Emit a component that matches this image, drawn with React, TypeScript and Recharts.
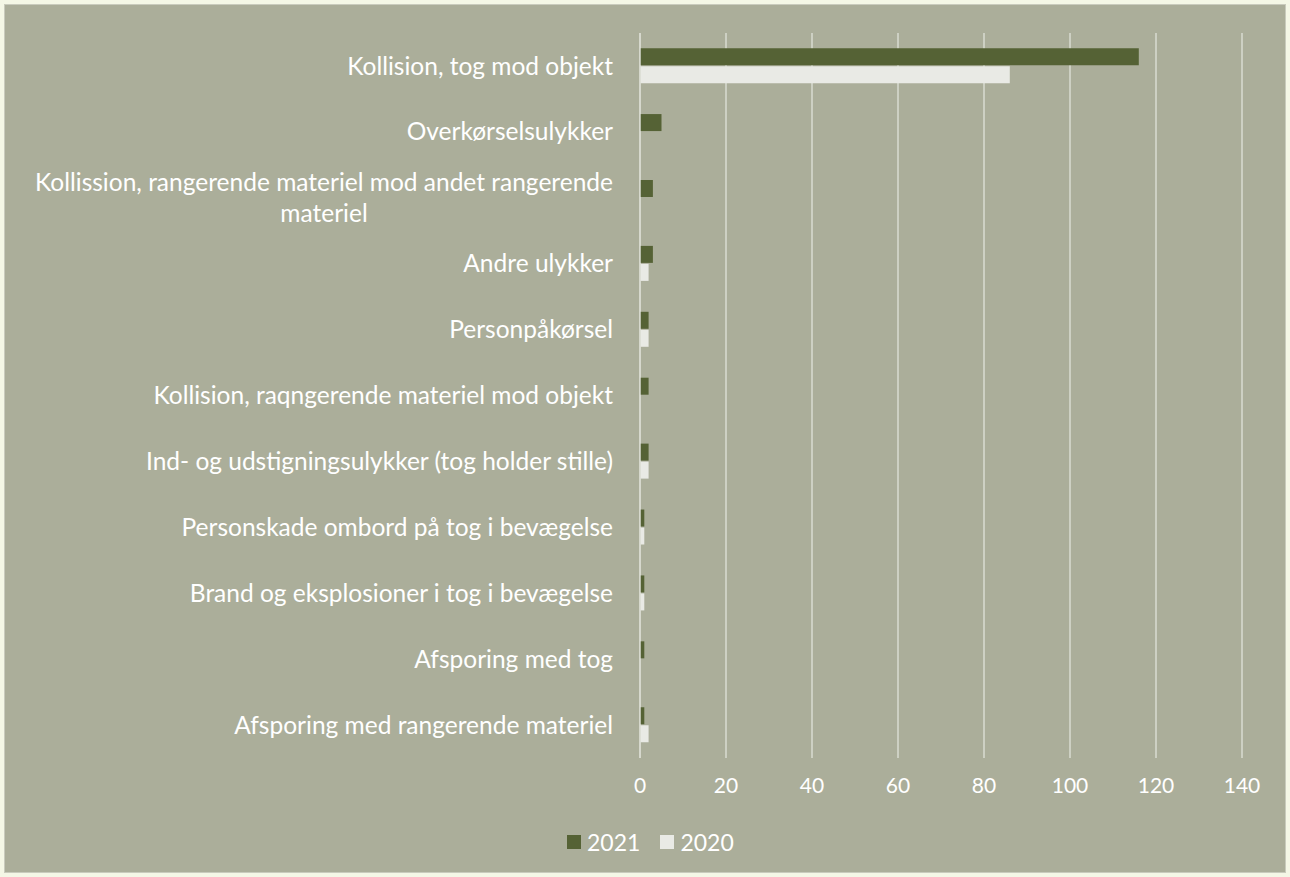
import React from 'react'
import { Bar, BarChart, CartesianGrid, XAxis, YAxis } from 'recharts'

// ── Data ──
const categories = [
  'Kollision, tog mod objekt',
  'Overkørselsulykker',
  'Kollission, rangerende materiel mod andet rangerende materiel',
  'Andre ulykker',
  'Personpåkørsel',
  'Kollision, raqngerende materiel mod objekt',
  'Ind- og udstigningsulykker (tog holder stille)',
  'Personskade ombord på tog i bevægelse',
  'Brand og eksplosioner i tog i bevægelse',
  'Afsporing med tog',
  'Afsporing med rangerende materiel',
]
const values2021 = [116, 5, 3, 3, 2, 2, 2, 1, 1, 1, 1]
const values2020 = [86, 0, 0, 2, 2, 0, 2, 1, 1, 0, 2]
const xTicks = [0, 20, 40, 60, 80, 100, 120, 140]
const seriesLabels = ['2021', '2020']

const data = categories.map((name, i) => ({
  name,
  y2021: values2021[i],
  y2020: values2020[i],
}))

const FONT = 'Lato, "Open Sans", sans-serif'
const DARK = '#556235'
const LIGHT = '#e9eae5'
const BG = '#abae9a'
const GRID = '#d9dbd0'
const LABEL_SIZE = 24.5

// Two-line labels are centered against each other, block right-aligned
const wraps: Record<string, string[]> = {
  'Kollission, rangerende materiel mod andet rangerende materiel': [
    'Kollission, rangerende materiel mod andet rangerende',
    'materiel',
  ],
}

let ctx: CanvasRenderingContext2D | null = null
function textWidth(s: string, size: number) {
  if (!ctx) ctx = document.createElement('canvas').getContext('2d')
  if (!ctx) return s.length * size * 0.5
  ctx.font = `${size}px ${FONT}`
  return ctx.measureText(s).width
}

function CategoryTick(props: any) {
  const { x, y, payload } = props
  const lines = wraps[payload.value]
  if (!lines) {
    return (
      <text x={x} y={y} dy="0.35em" textAnchor="end" fill="#ffffff" fontSize={LABEL_SIZE} fontFamily={FONT}>
        {payload.value}
      </text>
    )
  }
  const w = textWidth(lines[0], LABEL_SIZE)
  const cx = x - w / 2
  return (
    <text x={cx} y={y - 15} textAnchor="middle" fill="#ffffff" fontSize={LABEL_SIZE} fontFamily={FONT}>
      {lines.map((l, i) => (
        <tspan key={i} x={cx} dy={i === 0 ? '0.35em' : 31}>
          {l}
        </tspan>
      ))}
    </text>
  )
}

function LegendBox() {
  const colors = [DARK, LIGHT]
  return (
    <div
      style={{
        position: 'absolute',
        left: 567,
        top: 828,
        display: 'flex',
        gap: 20,
        fontFamily: FONT,
        fontSize: 23,
        color: '#fff',
        lineHeight: '28px',
      }}
    >
      {seriesLabels.map((label, i) => (
        <div key={label} style={{ display: 'flex', alignItems: 'center', gap: 6 }}>
          <span style={{ width: 14, height: 14, background: colors[i], display: 'inline-block' }} />
          <span>{label}</span>
        </div>
      ))}
    </div>
  )
}

export default function App() {
  return (
    <div style={{ position: 'fixed', left: 0, top: 0, width: 1290, height: 877, background: '#f4f7e6' }}>
      <div
        style={{
          position: 'absolute',
          left: 4,
          top: 4,
          width: 1282,
          height: 869,
          boxSizing: 'border-box',
          border: '1px solid #c9cbbd',
          background: BG,
        }}
      />
      <div style={{ position: 'absolute', left: 0, top: 0 }}>
        <BarChart
          width={1290}
          height={877}
          data={data}
          layout="vertical"
          margin={{ top: 33, right: 48, bottom: 89, left: 0 }}
          barCategoryGap="23%"
          barGap={1}
        >
          <CartesianGrid horizontal={false} vertical stroke={GRID} strokeWidth={1.5} />
          <XAxis
            type="number"
            domain={[0, 140]}
            ticks={xTicks}
            height={30}
            axisLine={false}
            tickLine={false}
            tick={{ fill: '#ffffff', fontSize: 21, fontFamily: FONT }}
            tickMargin={14}
          />
          <YAxis
            type="category"
            dataKey="name"
            width={640}
            axisLine={{ stroke: GRID, strokeWidth: 1.5 }}
            tickLine={false}
            tick={<CategoryTick />}
            tickMargin={21}
            interval={0}
          />
          <Bar dataKey="y2021" name={seriesLabels[0]} fill={DARK} isAnimationActive={false} />
          <Bar dataKey="y2020" name={seriesLabels[1]} fill={LIGHT} isAnimationActive={false} />
        </BarChart>
      </div>
      <LegendBox />
    </div>
  )
}
